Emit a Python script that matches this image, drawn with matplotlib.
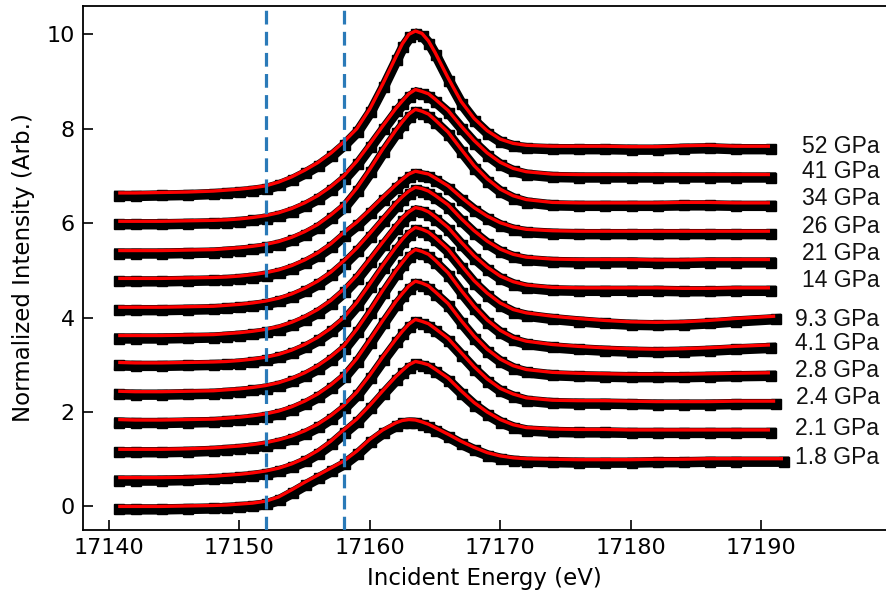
import matplotlib
matplotlib.use("Agg")
import matplotlib.pyplot as plt
from matplotlib.transforms import offset_copy

# ---------------- data ----------------
energy = [17140.7, 17142, 17144, 17146, 17148, 17149, 17150, 17151, 17152, 17153,
          17154, 17155, 17156, 17157, 17158, 17159, 17160, 17161, 17162, 17162.5,
          17163, 17163.5, 17164, 17164.5, 17165, 17166, 17167, 17168, 17169, 17170,
          17171, 17172, 17174, 17176, 17178, 17180, 17182, 17184, 17186, 17188]

end_energy = [17191.7, 17190.7, 17191.1, 17190.7, 17190.7, 17191.1,
              17190.7, 17190.7, 17190.7, 17190.7, 17190.7, 17190.7]

labels = ["1.8 GPa", "2.1 GPa", "2.4 GPa", "2.8 GPa", "4.1 GPa", "9.3 GPa",
          "14 GPa", "21 GPa", "26 GPa", "34 GPa", "41 GPa", "52 GPa"]

offsets = [0.0, 0.6, 1.2, 1.8, 2.4, 3.0, 3.6, 4.2, 4.8, 5.4, 6.0, 6.6]

label_y = [1.04, 1.65, 2.31, 2.88, 3.45, 3.96, 4.79, 5.36, 5.93, 6.53, 7.10, 7.63]

# relative intensities (before stacking offset), one value per energy + end point
gpa_1p8 = [0.00, 0.00, 0.00, 0.01, 0.02, 0.03, 0.05, 0.07, 0.11, 0.20,
           0.35, 0.51, 0.66, 0.81, 0.96, 1.17, 1.42, 1.62, 1.77, 1.82,
           1.84, 1.83, 1.79, 1.74, 1.67, 1.53, 1.38, 1.25, 1.14, 1.07,
           1.03, 1.01, 1.00, 0.99, 0.99, 0.99, 1.00, 1.00, 1.01, 1.01, 1.01]
gpa_2p1 = [0.01, 0.01, 0.01, 0.02, 0.04, 0.06, 0.08, 0.11, 0.15, 0.21,
           0.30, 0.42, 0.58, 0.78, 1.02, 1.25, 1.54, 1.85, 2.15, 2.28,
           2.40, 2.47, 2.44, 2.40, 2.31, 2.12, 1.85, 1.60, 1.40, 1.24,
           1.13, 1.07, 1.04, 1.03, 1.03, 1.02, 1.02, 1.02, 1.02, 1.02, 1.02]
gpa_2p4 = [0.01, 0.01, 0.01, 0.02, 0.04, 0.06, 0.08, 0.11, 0.15, 0.21,
           0.29, 0.40, 0.54, 0.72, 0.94, 1.22, 1.58, 1.97, 2.34, 2.51,
           2.66, 2.76, 2.72, 2.67, 2.57, 2.36, 2.06, 1.76, 1.50, 1.30,
           1.18, 1.10, 1.05, 1.04, 1.04, 1.03, 1.02, 1.02, 1.02, 1.03, 1.03]
gpa_2p8 = [0.04, 0.03, 0.03, 0.04, 0.05, 0.07, 0.09, 0.12, 0.16, 0.22,
           0.31, 0.43, 0.58, 0.77, 1.00, 1.33, 1.73, 2.14, 2.54, 2.71,
           2.87, 2.97, 2.93, 2.87, 2.75, 2.50, 2.14, 1.81, 1.53, 1.32,
           1.18, 1.10, 1.04, 1.02, 1.01, 1.00, 1.00, 1.00, 1.01, 1.02, 1.03]
gpa_4p1 = [0.04, 0.03, 0.03, 0.04, 0.05, 0.07, 0.09, 0.12, 0.16, 0.22,
           0.31, 0.43, 0.58, 0.77, 1.00, 1.35, 1.75, 2.18, 2.59, 2.77,
           2.94, 3.04, 3.00, 2.94, 2.82, 2.55, 2.18, 1.84, 1.55, 1.33,
           1.18, 1.10, 1.03, 0.99, 0.96, 0.94, 0.93, 0.94, 0.96, 0.99, 1.02]
gpa_9p3 = [0.05, 0.04, 0.04, 0.05, 0.06, 0.07, 0.09, 0.12, 0.16, 0.22,
           0.31, 0.43, 0.58, 0.77, 1.00, 1.32, 1.71, 2.11, 2.49, 2.66,
           2.81, 2.91, 2.87, 2.81, 2.70, 2.45, 2.11, 1.78, 1.52, 1.31,
           1.17, 1.10, 1.03, 0.98, 0.94, 0.91, 0.90, 0.91, 0.94, 0.98, 1.03]
gpa_14 = [0.02, 0.02, 0.02, 0.03, 0.04, 0.06, 0.08, 0.11, 0.15, 0.21,
          0.30, 0.42, 0.57, 0.76, 1.00, 1.29, 1.64, 2.00, 2.35, 2.51,
          2.64, 2.73, 2.70, 2.64, 2.54, 2.31, 2.00, 1.71, 1.47, 1.28,
          1.16, 1.09, 1.04, 1.03, 1.03, 1.03, 1.03, 1.02, 1.02, 1.03, 1.03]
gpa_21 = [0.02, 0.02, 0.02, 0.03, 0.04, 0.06, 0.08, 0.11, 0.15, 0.21,
          0.30, 0.42, 0.57, 0.76, 1.00, 1.27, 1.58, 1.90, 2.22, 2.36,
          2.48, 2.56, 2.53, 2.48, 2.39, 2.19, 1.90, 1.64, 1.42, 1.25,
          1.14, 1.08, 1.04, 1.03, 1.03, 1.03, 1.02, 1.02, 1.03, 1.03, 1.03]
gpa_26 = [0.03, 0.03, 0.03, 0.04, 0.05, 0.06, 0.08, 0.11, 0.15, 0.21,
          0.30, 0.42, 0.57, 0.76, 1.00, 1.22, 1.48, 1.75, 2.01, 2.13,
          2.24, 2.30, 2.27, 2.24, 2.16, 1.99, 1.75, 1.53, 1.35, 1.21,
          1.12, 1.07, 1.04, 1.03, 1.03, 1.03, 1.03, 1.03, 1.03, 1.03, 1.03]
gpa_34 = [0.02, 0.02, 0.02, 0.03, 0.04, 0.06, 0.08, 0.11, 0.15, 0.21,
          0.30, 0.42, 0.57, 0.77, 1.00, 1.34, 1.74, 2.17, 2.57, 2.75,
          2.91, 3.01, 2.97, 2.91, 2.79, 2.53, 2.17, 1.82, 1.54, 1.32,
          1.18, 1.10, 1.04, 1.03, 1.03, 1.03, 1.03, 1.04, 1.04, 1.03, 1.03]
gpa_41 = [0.04, 0.04, 0.04, 0.05, 0.06, 0.07, 0.09, 0.12, 0.16, 0.22,
          0.31, 0.43, 0.58, 0.77, 1.00, 1.31, 1.68, 2.06, 2.43, 2.59,
          2.74, 2.83, 2.79, 2.74, 2.63, 2.39, 2.06, 1.75, 1.49, 1.29,
          1.16, 1.09, 1.04, 1.03, 1.03, 1.03, 1.03, 1.03, 1.03, 1.03, 1.03]
gpa_52 = [0.04, 0.04, 0.05, 0.06, 0.08, 0.10, 0.12, 0.15, 0.19, 0.27,
          0.38, 0.52, 0.68, 0.88, 1.12, 1.40, 1.82, 2.35, 2.92, 3.20,
          3.40, 3.47, 3.42, 3.26, 3.02, 2.48, 1.98, 1.62, 1.36, 1.18,
          1.09, 1.05, 1.03, 1.03, 1.03, 1.02, 1.02, 1.04, 1.05, 1.03, 1.03]

spectra = [gpa_1p8, gpa_2p1, gpa_2p4, gpa_2p8, gpa_4p1, gpa_9p3,
           gpa_14, gpa_21, gpa_26, gpa_34, gpa_41, gpa_52]

edge_lines = [17152, 17158]
xticks = [17140, 17150, 17160, 17170, 17180, 17190]
yticks = [0, 2, 4, 6, 8, 10]

# ---------------- figure ----------------
fig = plt.figure(figsize=(8.86, 5.98), dpi=100)
ax = fig.add_axes([83 / 886, 68 / 598, 803 / 886, 524 / 598])

data_tr = offset_copy(ax.transData, fig=fig, x=1, y=-3, units='dots')

for vals, off, e_end in zip(spectra, offsets, end_energy):
    xs = energy + [e_end]
    ys = [v + off for v in vals]
    ax.plot(xs, ys, color='black', lw=7.5, marker='s', ms=7,
            solid_capstyle='projecting', solid_joinstyle='miter',
            transform=data_tr, zorder=2)
    ax.plot(xs, ys, color='red', lw=2.4, solid_capstyle='butt', zorder=3)

for xv in edge_lines:
    ax.axvline(xv, color='#2a7ab8', lw=2.3, dashes=(4.3, 2.3), zorder=4)

for lab, ly in zip(labels, label_y):
    ax.text(17199.1, ly, lab, ha='right', va='center', fontsize=16.5,
            family='Liberation Sans', color='#111111')

ax.set_xlim(17138, 17199.6)
ax.set_ylim(-0.5, 10.6)
ax.set_xticks(xticks)
ax.set_yticks(yticks)
ax.tick_params(direction='in', length=7, width=1.2, labelsize=16, pad=6)
ax.spines['right'].set_visible(False)
for s in ['left', 'bottom', 'top']:
    ax.spines[s].set_linewidth(1.3)

ax.set_xlabel("Incident Energy (eV)", fontsize=16.5, labelpad=6)
ax.set_ylabel("Normalized Intensity (Arb.)", fontsize=16.5, labelpad=8)

fig.savefig("out.png", dpi=100)
